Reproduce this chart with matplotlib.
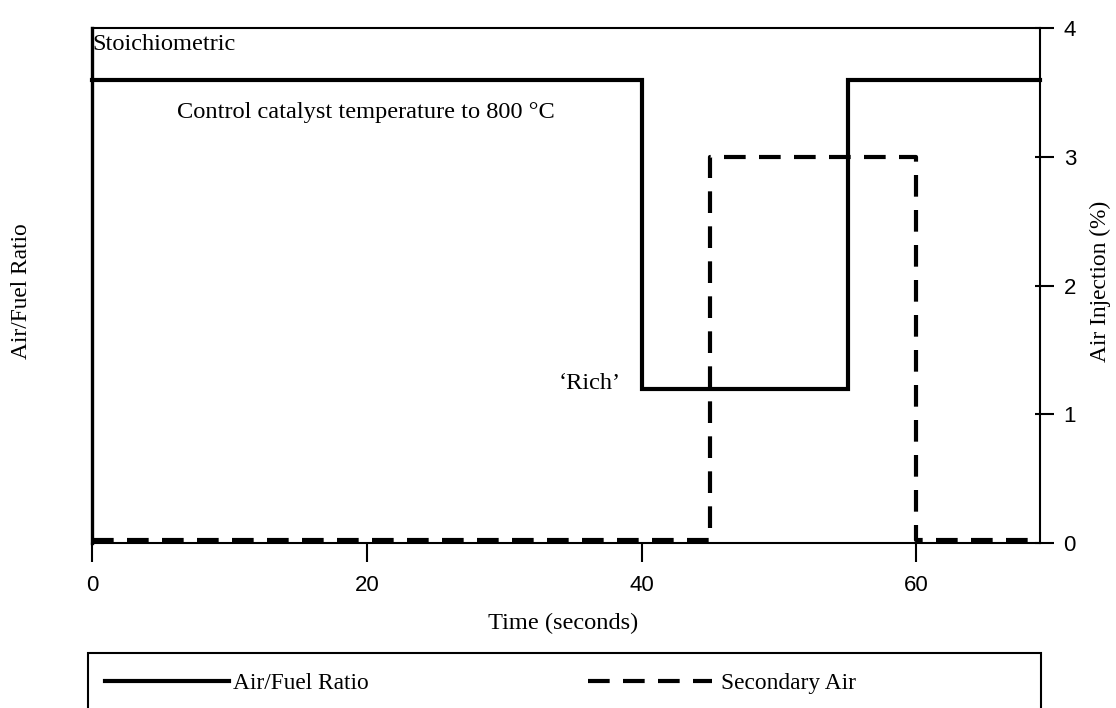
import matplotlib
matplotlib.use("Agg")
import matplotlib.pyplot as plt
from matplotlib.patches import Rectangle

# ---- data ----
afr_time = [0, 40, 55, 69]
afr_value = [3.6, 1.2, 3.6, 3.6]          # Air/Fuel ratio (shown on shared scale)
air_time = [0, 45, 60, 69]
air_value = [0.02, 3.0, 0.02, 0.02]       # Secondary air injection (%)
x_ticks = [0, 20, 40, 60]
y_ticks = [0, 1, 2, 3, 4]

W, H = 1116, 708
fig = plt.figure(figsize=(W / 100, H / 100), dpi=100)
L, R, T, B = 92, 1040, 28, 543
ax = fig.add_axes([L / W, 1 - B / H, (R - L) / W, (B - T) / H])

SERIF = ["Liberation Serif", "DejaVu Serif"]
SANS = ["Liberation Sans", "DejaVu Sans"]
fs_ann = 17.6
fs_lab = 16.8
fs_tick = 16

line_afr, = ax.plot(afr_time, afr_value, drawstyle="steps-post", color="black",
                    lw=3, solid_joinstyle="miter", clip_on=False, zorder=3,
                    label="Air/Fuel Ratio")
line_air, = ax.plot(air_time, air_value, drawstyle="steps-post", color="black",
                    lw=3, dashes=(5.2, 3.2), clip_on=False, zorder=4,
                    label="Secondary Air")

ax.set_xlim(0, 69)
ax.set_ylim(0, 4)

for side, lw in [("left", 2.4), ("top", 1.5), ("right", 1.5), ("bottom", 1.5)]:
    ax.spines[side].set_linewidth(lw)
    ax.spines[side].set_color("black")

ax.set_xticks(x_ticks)
ax.tick_params(axis="x", direction="out", length=14, width=1.5, pad=9,
               labelsize=fs_tick)
ax.yaxis.tick_right()
ax.set_yticks(y_ticks)
ax.tick_params(axis="y", which="major", direction="out", length=10, width=1.5,
               pad=7, labelsize=fs_tick, left=False, labelleft=False)
ax.yaxis.remove_overlapping_locs = False
ax.set_yticks(y_ticks, minor=True)
ax.tick_params(axis="y", which="minor", direction="in", length=3.5, width=1.5,
               left=False, right=True, labelright=False)
for lab in ax.get_xticklabels() + ax.get_yticklabels():
    lab.set_family(SANS)

# annotations
ax.text(0, 3.87, "Stoichiometric", family=SERIF, fontsize=fs_ann,
        ha="left", va="center")
ax.text(6.2, 3.34, "Control catalyst temperature to 800 °C", family=SERIF,
        fontsize=fs_ann, ha="left", va="center")
ax.text(38.5, 1.24, "\u2018Rich\u2019", family=SERIF, fontsize=fs_ann,
        ha="right", va="center")

# axis labels
fig.text(563 / W, 1 - 623 / H, "Time (seconds)", family=SERIF, fontsize=fs_ann,
         ha="center", va="center")
fig.text(22 / W, 1 - 291 / H, "Air/Fuel Ratio", family=SERIF, fontsize=fs_lab,
         ha="center", va="center", rotation=90)
fig.text(1100 / W, 1 - 281 / H, "Air Injection (%)", family=SERIF,
         fontsize=fs_lab, ha="center", va="center", rotation=90)

# legend frame
fig.add_artist(Rectangle((88 / W, -0.05), (1041 - 88) / W, 0.05 + 1 - 653 / H,
                         transform=fig.transFigure, fill=False, lw=1.5,
                         edgecolor="black", clip_on=False))
leg_y = 1 - 683 / H
fig.legend(handles=[line_afr], loc="center left", bbox_to_anchor=(105 / W, leg_y),
           frameon=False, borderpad=0, borderaxespad=0, handlelength=5.3,
           handletextpad=0.2, prop={"family": SERIF, "size": fs_lab})
fig.legend(handles=[line_air], loc="center left", bbox_to_anchor=(588 / W, leg_y),
           frameon=False, borderpad=0, borderaxespad=0, handlelength=5.3,
           handletextpad=0.42, prop={"family": SERIF, "size": fs_lab})

fig.savefig("out.png", dpi=100)
